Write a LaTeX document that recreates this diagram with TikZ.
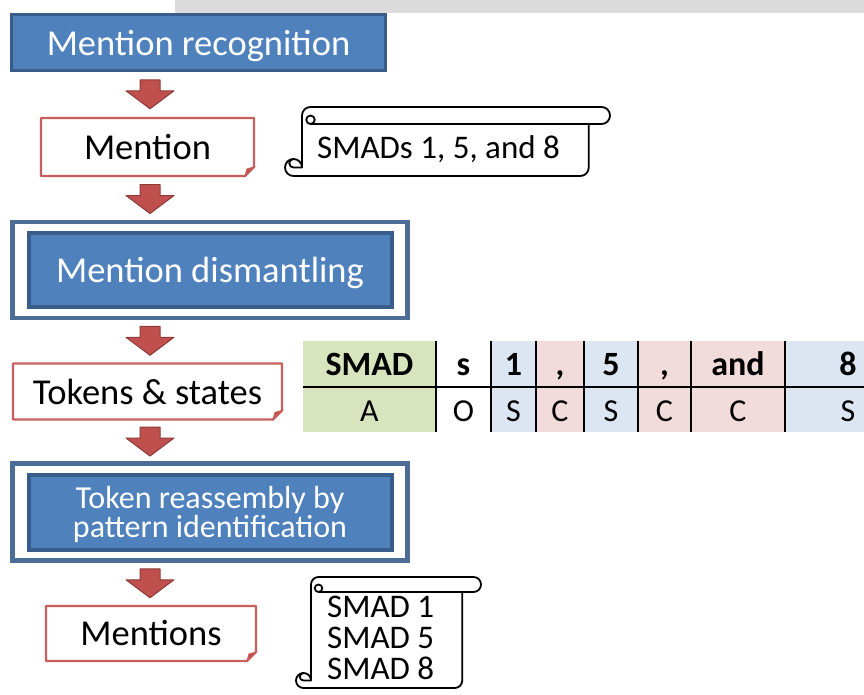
\documentclass[tikz,border=0pt]{standalone}
\usepackage{fontspec}
\setmainfont{Carlito}
\usetikzlibrary{calc,fit}

\definecolor{boxblue}{HTML}{4F81BD}
\definecolor{boxedge}{HTML}{385D8A}
\definecolor{noteedge}{HTML}{C85F5C}
\definecolor{arrowred}{HTML}{C0504D}
\definecolor{arrowedge}{HTML}{8E3A38}
\definecolor{cellgreen}{HTML}{D7E4BD}
\definecolor{cellblue}{HTML}{DCE6F2}
\definecolor{cellpink}{HTML}{F2DCDB}

\tikzset{
  stepbox/.style={draw=boxedge, line width=3pt, fill=boxblue, text=white, align=center,
    inner sep=0pt, outer sep=0pt, text depth=0pt, font=\fontsize{36.5}{29}\selectfont},
  stageframe/.style={draw=boxedge!90!white, line width=4.5pt, inner sep=0pt, outer sep=0pt},
  notebox/.style={inner sep=0pt, outer sep=0pt, font=\fontsize{36.5}{40}\selectfont},
  noteline/.style={draw=noteedge, line width=2.2pt, line join=round},
  notefold/.style={fill=arrowred, draw=noteedge, line width=1pt},
  flowarrowstyle/.style={fill=arrowred, draw=arrowedge, line width=1pt, line join=round},
  scrollline/.style={draw=black, line width=1.8pt, fill=white, line join=round},
  scrolltext/.style={inner sep=0pt, align=left, font=\fontsize{33}{31}\selectfont},
  tokentext/.style={inner sep=0pt, text height=22pt, text depth=0pt, font=\fontsize{34}{36}\selectfont},
  tableline/.style={draw=black, line width=1.6pt}
}

% block arrow between two stacked nodes, on the vertical line through (spine)
\newcommand\flowarrow[2]{%
  \coordinate (mid) at ($(#1.south -| spine)!0.5!(#2.north -| spine)$);
  \filldraw[flowarrowstyle] ($(mid)+(-10,-14.5)$) -- ++(20,0) -- ++(0,11) -- ++(14,0)
    -- ($(mid)+(0,14.5)$) -- ($(mid)+(-24,-3.5)$) -- ++(14,0) -- cycle;}

% outline with folded bottom right corner
\newcommand\notecorner[1]{%
  \draw[noteline] (#1.north west) -- (#1.north east) -- ($(#1.south east)+(0,-9)$)
    -- ($(#1.south east)+(-9,0)$) -- (#1.south west) -- cycle;
  \filldraw[notefold] ($(#1.south east)+(0,-9)$) -- ($(#1.south east)+(-9,0)$)
    -- ($(#1.south east)+(-7,-7)$) -- cycle;}

% horizontal scroll: left, top, right, bottom, roll radius
\newcommand\scrollshape[5]{%
  \filldraw[scrollline] ({#1+2*#5},{#4-#5}) -- ({#1+2*#5},{#2+#5})
    arc[start angle=180, end angle=270, radius=#5] -- ({#3-#5},#2)
    arc[start angle=270, end angle=450, radius=#5] -- ({#3-2.5*#5},{#2+2*#5})
    -- ({#3-2.5*#5},{#4-#5}) arc[start angle=0, end angle=90, radius=#5]
    -- ({#1+#5},#4) arc[start angle=90, end angle=360, radius=#5] -- cycle;
  \draw[scrollline, fill=none] ({#3-2.5*#5},{#2+2*#5}) -- ({#1+3*#5},{#2+2*#5})
    arc[start angle=90, end angle=450, radius=#5/2];
  \draw[scrollline, fill=none] ({#1+2*#5},{#4-#5}) -- ({#1+#5},{#4-#5})
    arc[start angle=90, end angle=270, radius=#5/2];}

\begin{document}
\begin{tikzpicture}[x=1pt, y=-1pt]
  \useasboundingbox[fill=white] (0,0) rectangle (864,694);

  % faint band along the top
  \fill[gray!28] (175,0) rectangle (864,13);

  \coordinate (spine) at (150,0);

  % processing steps
  \node[stepbox, minimum width=374pt, minimum height=56pt] (recog) at (198.5,42.5) {Mention recognition};

  \node[stepbox, line width=4pt, minimum width=363pt, minimum height=74pt] (dismantle) at (210,270) {Mention dismantling};
  \node[stageframe, fit=(dismantle), inner xsep=16pt, inner ysep=11pt] (dismantleframe) {};

  \node[stepbox, line width=4pt, minimum width=363pt, minimum height=75pt, font=\fontsize{32}{29}\selectfont]
    (reassembly) at (210,512) {Token reassembly by\\pattern identification};
  \node[stageframe, fit=(reassembly), inner xsep=16pt, inner ysep=11pt] (reassemblyframe) {};

  % intermediate results
  \node[notebox, minimum width=213pt, minimum height=58pt] (mention) at (147.5,147) {Mention};
  \notecorner{mention}
  \node[notebox, minimum width=269pt, minimum height=56pt] (tokens) at (147.5,391.5) {Tokens \& states};
  \notecorner{tokens}
  \node[notebox, minimum width=210pt, minimum height=55pt] (mentions) at (151,633.5) {Mentions};
  \notecorner{mentions}

  % arrows
  \flowarrow{recog}{mention}
  \flowarrow{mention}{dismantleframe}
  \flowarrow{dismantleframe}{tokens}
  \flowarrow{tokens}{reassemblyframe}
  \flowarrow{reassemblyframe}{mentions}

  % scrolls with the examples
  \scrollshape{285}{107}{610}{176}{8.5}
  \node[scrolltext, anchor=base west] (smads) at (317,158) {SMADs 1, 5, and 8};
  \scrollshape{296}{577}{481}{688}{7.5}
  \node[scrolltext, anchor=north west] (found) at (327,596) {SMAD 1\\SMAD 5\\SMAD 8};

  % token and state table
  \def\rowtop{341}
  \def\rowmid{387}
  \def\rowbot{432}
  \foreach \xa/\xb/\cellfill/\word/\state [count=\i] in
    {303/436/cellgreen/SMAD/A, 436/491/white/s/O, 491/536/cellblue/1/S, 536/584/cellpink/{,}/C,
     584/638/cellblue/5/S, 638/691/cellpink/{,}/C, 691/785/cellpink/and/C, 785/911/cellblue/8/S} {
    \fill[\cellfill] (\xa,\rowtop) rectangle (\xb,\rowbot);
    \node[tokentext, font=\fontsize{34}{36}\selectfont\bfseries] (tok\i) at ({(\xa+\xb)/2},364) {\word};
    \node[tokentext, font=\fontsize{32}{36}\selectfont] (state\i) at ({(\xa+\xb)/2},410) {\state};
  }
  \draw[tableline] (303,\rowmid) -- (864,\rowmid);
  \foreach \x in {436,491,536,584,638,691,785} {
    \draw[tableline] (\x,\rowtop) -- (\x,\rowbot);
  }
\end{tikzpicture}
\end{document}
